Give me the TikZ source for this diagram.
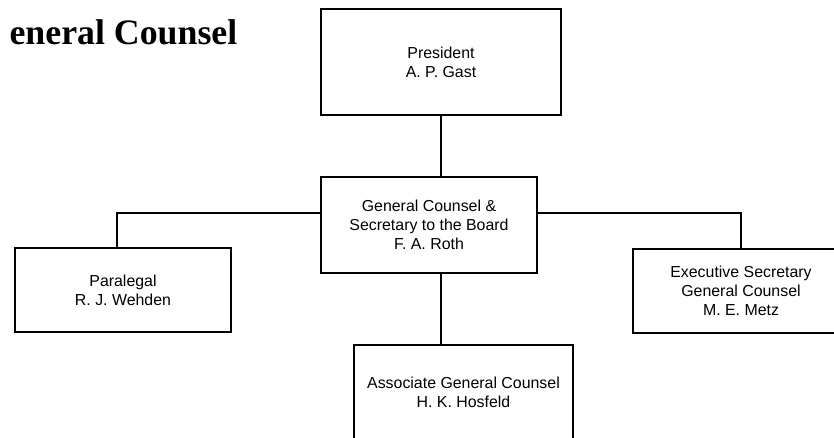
\documentclass[tikz,border=0pt]{standalone}
\usepackage{fontspec}
\setmainfont{Liberation Sans}
\newfontfamily\titlefont{Liberation Serif}
\begin{document}
\begin{tikzpicture}[x=1pt,y=-1pt,
  orgbox/.style={draw=black, line width=2pt, fill=white, align=center, inner sep=0pt,
    font=\fontsize{15.9}{19.3}\selectfont},
  conn/.style={line width=2pt, line cap=rect}]
\useasboundingbox (0,0) rectangle (834,437);
\clip (0,0) rectangle (834,437);
\node[anchor=base east, inner sep=0pt, font=\titlefont\bfseries\fontsize{35.8}{40}\selectfont] (title) at (237.5,44) {eneral Counsel};
\node[orgbox, minimum width=240pt, minimum height=106pt] (pres) at (441,62) {President\\A. P. Gast};
\node[orgbox, minimum width=216pt, minimum height=96pt] (gc) at (429,225) {General Counsel \&\\Secretary to the Board\\F. A. Roth};
\node[orgbox, minimum width=216pt, minimum height=84pt] (para) at (123,290) {Paralegal\\R. J. Wehden};
\node[orgbox, minimum width=216pt, minimum height=84pt] (exec) at (741,291) {Executive Secretary\\General Counsel\\M. E. Metz};
\node[orgbox, minimum width=219pt, minimum height=94pt] (assoc) at (463.5,392) {Associate General Counsel\\H. K. Hosfeld};
\coordinate (jl) at (116.7,212.5);
\coordinate (jr) at (741,212.5);
\coordinate (jd) at (441,272);
\draw[conn] (pres.south) -- (pres.south |- gc.north);
\draw[conn] (gc.west |- jl) -- (jl) -- (jl |- para.north);
\draw[conn] (gc.east |- jr) -- (jr) -- (jr |- exec.north);
\draw[conn] (jd |- gc.south) -- (jd |- assoc.north);
\end{tikzpicture}
\end{document}
